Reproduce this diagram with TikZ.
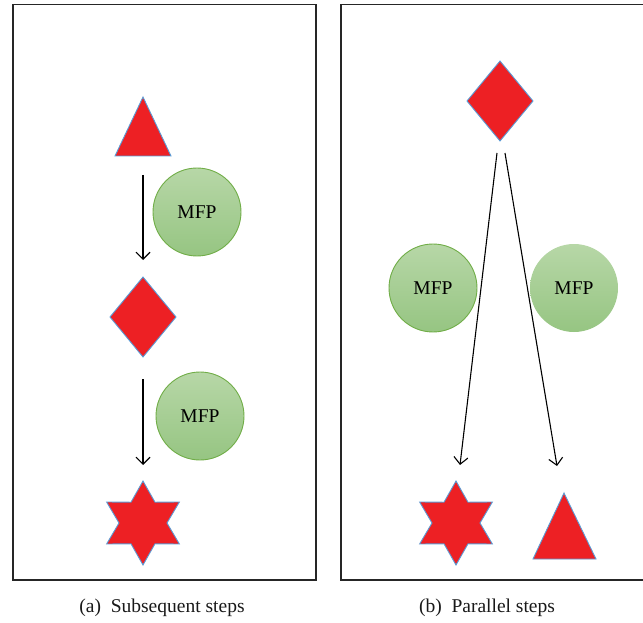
\documentclass[tikz,border=0pt]{standalone}
\usepackage{fontspec}
\setmainfont{Liberation Serif}
\usetikzlibrary{shapes.geometric,arrows.meta,calc}
\definecolor{shapered}{RGB}{237,32,36}
\definecolor{shapeedge}{RGB}{91,155,213}
\definecolor{mfptop}{RGB}{183,215,167}
\definecolor{mfpbottom}{RGB}{150,197,130}
\definecolor{mfpring}{RGB}{112,173,71}
\begin{document}
\begin{tikzpicture}[x=1pt,y=-1pt,
  panel/.style={draw=black!85, line width=1.3pt},
  redshape/.style={fill=shapered, draw=shapeedge, line width=0.9pt, inner sep=0pt, outer sep=0pt},
  mfp/.style={circle, minimum size=88pt, inner sep=0pt, top color=mfptop, bottom color=mfpbottom,
              text=black, font=\fontsize{19.5}{22}\selectfont},
  ringed/.style={draw=mfpring, line width=0.9pt},
  flow/.style={line width=1.1pt, -{Straight Barb[length=7pt,width=14pt]}},
  caption/.style={anchor=base, text=black!90, font=\fontsize{19.5}{22}\selectfont}]
\useasboundingbox (0,0) rectangle (643,623);

% frames of the two panels
\draw[panel] (13,4.5) rectangle (316,580);
\draw[panel] (341,4.5) rectangle (650,580);

% (a) subsequent steps
\draw[redshape] (143,97) -- (171,156) -- (115,156) -- cycle;
\coordinate (triA) at (143,156);
\node[redshape, diamond, minimum width=66pt, minimum height=80pt] (diaA) at (143,317) {};
\node[redshape, star, star points=6, star point ratio=1.75, minimum size=84pt] (starA) at (143,523) {};
\node[mfp, ringed] (mfpA) at (197,212) {MFP};
\node[mfp, ringed] (mfpB) at (200,416) {MFP};
\draw[flow, shorten <=19pt, shorten >=17pt] (triA) -- (diaA.north);
\draw[flow, shorten <=22pt, shorten >=16pt] (diaA.south) -- (starA.north);

% (b) parallel steps
\node[redshape, diamond, minimum width=66pt, minimum height=80pt] (diaB) at (500,101) {};
\node[redshape, star, star points=6, star point ratio=1.75, minimum size=84pt] (starB) at (456,523) {};
\draw[redshape] (564,493) -- (596,559) -- (533,559) -- cycle;
\coordinate (triB) at (564,493);
\node[mfp, ringed] (mfpC) at (433,288) {MFP};
\node[mfp] (mfpD) at (574,288) {MFP};
\coordinate (fanL) at ($(diaB.south)+(-3,12)$);
\coordinate (fanR) at ($(diaB.south)+(5,12)$);
\coordinate (tipL) at ($(starB.north)+(4,-16)$);
\coordinate (tipR) at ($(triB)+(-7,-27)$);
\draw[flow] (fanL) -- (tipL);
\draw[flow] (fanR) -- (tipR);

% captions
\node[caption] (capA) at (162,612) {(a)~~Subsequent steps};
\node[caption] (capB) at (487,612) {(b)~~Parallel steps};
\end{tikzpicture}
\end{document}
